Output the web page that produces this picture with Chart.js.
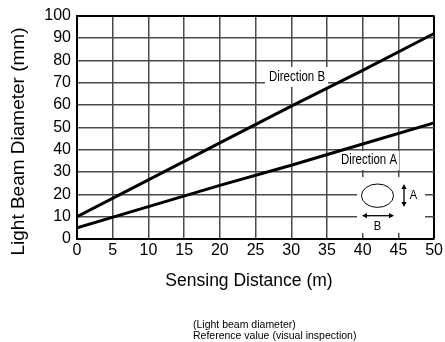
<!DOCTYPE html>
<html>
<head>
<meta charset="utf-8">
<script src="https://cdn.jsdelivr.net/npm/chart.js@4.4.1/dist/chart.umd.min.js"></script>
<style>
  html, body { margin: 0; padding: 0; background: #fff; }
  #wrap { width: 445px; height: 342px; }
</style>
</head>
<body>
<div id="wrap"><canvas id="beamChart" width="445" height="342"></canvas></div>
<script>
// Light beam diameter (mm) vs sensing distance (m)
const distances = [0, 10, 20, 30, 40, 50];
const directionA = [5, 14.5, 24, 33, 42.5, 52];
const directionB = [10, 26.5, 43, 59.5, 75.5, 92];
const xTicks = [0, 5, 10, 15, 20, 25, 30, 35, 40, 45, 50];
const yTicks = [0, 10, 20, 30, 40, 50, 60, 70, 80, 90, 100];

const FONT = "'Liberation Sans', Arial, sans-serif";
const GRID = '#4a4a4a';

const toPoints = (ys) => distances.map((d, i) => ({ x: d, y: ys[i] }));

// condensed text: regular face squeezed horizontally
function narrowText(ctx, text, x, y, size) {
    ctx.save();
    ctx.translate(x, y);
    ctx.scale(0.82, 1);
    ctx.font = size + 'px ' + FONT;
    ctx.textAlign = 'center';
    ctx.textBaseline = 'middle';
    ctx.fillText(text, 0, 0);
    ctx.restore();
}

// arrow with filled heads at both ends
function arrow(ctx, x1, y1, x2, y2) {
    const ang = Math.atan2(y2 - y1, x2 - x1);
    const len = 5, half = 2.6;
    ctx.beginPath();
    ctx.moveTo(x1 + Math.cos(ang) * len, y1 + Math.sin(ang) * len);
    ctx.lineTo(x2 - Math.cos(ang) * len, y2 - Math.sin(ang) * len);
    ctx.stroke();
    [[x1, y1, ang + Math.PI], [x2, y2, ang]].forEach(([x, y, a]) => {
        ctx.beginPath();
        ctx.moveTo(x, y);
        ctx.lineTo(x - Math.cos(a) * len - Math.sin(a) * half, y - Math.sin(a) * len + Math.cos(a) * half);
        ctx.lineTo(x - Math.cos(a) * len + Math.sin(a) * half, y - Math.sin(a) * len - Math.cos(a) * half);
        ctx.closePath();
        ctx.fill();
    });
}

const labelsPlugin = {
    id: 'beamLabels',
    beforeDatasetsDraw(chart) {
        const ctx = chart.ctx;
        ctx.save();
        ctx.fillStyle = '#fff';
        ctx.fillRect(265, 67, 63, 20);   // Direction B
        ctx.fillRect(337, 151, 62, 19);  // Direction A
        ctx.fillRect(357, 177, 68, 56);  // beam shape key
        ctx.restore();
    },
    afterDraw(chart) {
        const ctx = chart.ctx;
        ctx.save();
        ctx.fillStyle = '#000';
        ctx.strokeStyle = '#000';

        narrowText(ctx, 'Direction B', 297, 77, 14);
        narrowText(ctx, 'Direction A', 369, 160.5, 14);

        // beam cross-section key
        ctx.lineWidth = 1;
        ctx.beginPath();
        ctx.ellipse(377.5, 195.7, 16, 11.7, 0, 0, Math.PI * 2);
        ctx.stroke();
        ctx.lineWidth = 1.3;
        arrow(ctx, 404, 184, 404, 207);
        arrow(ctx, 362, 215.7, 394, 215.7);
        narrowText(ctx, 'A', 413.5, 195.5, 13.5);
        narrowText(ctx, 'B', 377.5, 226, 13.5);

        // axis titles
        ctx.font = '17.5px ' + FONT;
        ctx.textAlign = 'center';
        ctx.textBaseline = 'alphabetic';
        ctx.fillText('Sensing Distance (m)', 249, 286);
        ctx.save();
        ctx.translate(24, 141.5);
        ctx.rotate(-Math.PI / 2);
        ctx.font = '19px ' + FONT;
        ctx.fillText('Light Beam Diameter (mm)', 0, 0);
        ctx.restore();

        // note below the chart
        ctx.font = '10.5px ' + FONT;
        ctx.textAlign = 'left';
        ctx.fillText('(Light beam diameter)', 193, 328);
        ctx.fillText('Reference value (visual inspection)', 193, 339);
        ctx.restore();
    }
};

new Chart(document.getElementById('beamChart'), {
    type: 'line',
    data: {
        datasets: [
            { label: 'Direction A', data: toPoints(directionA), borderColor: '#000', borderWidth: 3, pointRadius: 0, tension: 0 },
            { label: 'Direction B', data: toPoints(directionB), borderColor: '#000', borderWidth: 3, pointRadius: 0, tension: 0 }
        ]
    },
    options: {
        responsive: false,
        animation: false,
        devicePixelRatio: 1,
        layout: { padding: { left: 0, top: 13, right: 8.5, bottom: 0 } },
        plugins: {
            legend: { display: false },
            tooltip: { enabled: false }
        },
        scales: {
            x: {
                type: 'linear',
                min: 0,
                max: 50,
                afterBuildTicks: (s) => { s.ticks = xTicks.map(v => ({ value: v })); },
                afterFit: (s) => { s.height = 103; },
                ticks: { color: '#000', font: { family: FONT, size: 16 }, padding: 2, maxRotation: 0 },
                grid: {
                    drawTicks: false,
                    color: (c) => (c.tick && c.tick.value === 50 ? '#000' : GRID),
                    lineWidth: (c) => (c.tick && c.tick.value === 50 ? 2 : 1.5)
                },
                border: { color: '#000', width: 2 }
            },
            y: {
                min: 0,
                max: 100,
                afterBuildTicks: (s) => { s.ticks = yTicks.map(v => ({ value: v })); },
                afterFit: (s) => { s.width = 77; },
                ticks: { color: '#000', font: { family: FONT, size: 16 }, padding: 6 },
                grid: {
                    drawTicks: false,
                    color: (c) => (c.tick && c.tick.value === 100 ? '#000' : GRID),
                    lineWidth: (c) => (c.tick && c.tick.value === 100 ? 2 : 1.5)
                },
                border: { color: '#000', width: 2 }
            }
        }
    },
    plugins: [labelsPlugin]
});
</script>
</body>
</html>
